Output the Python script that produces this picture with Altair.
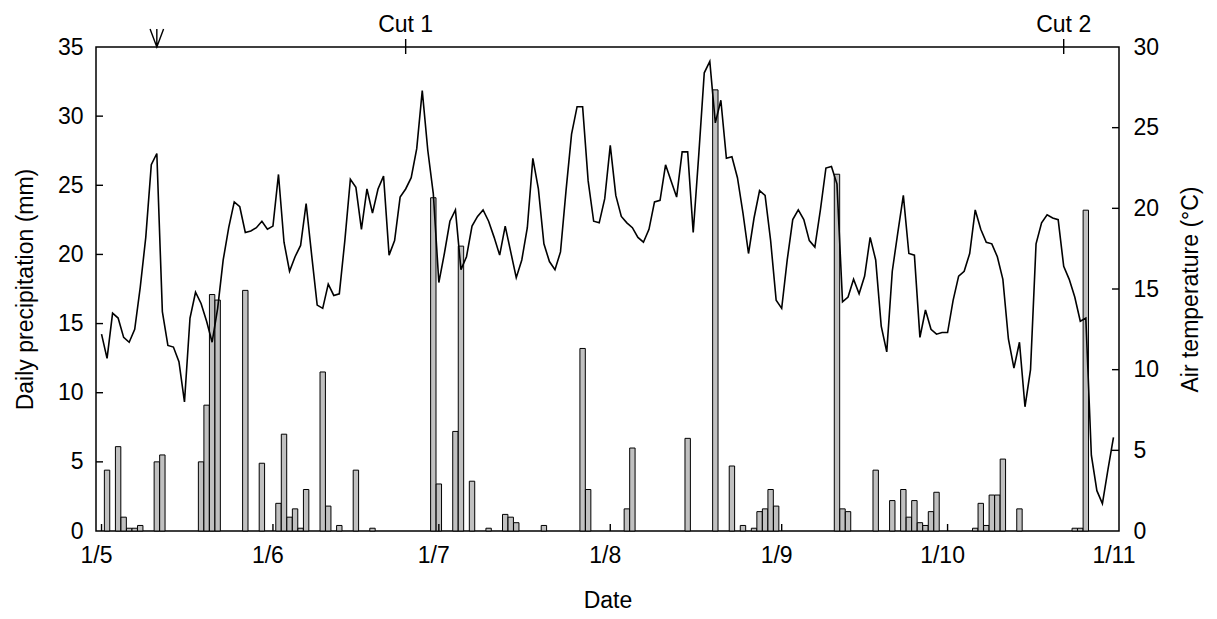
import altair as alt
import pandas as pd

FONT = "Liberation Sans"
FS = 23

# ---- x axis (day of season; 1 = 1 May) ----
label_pos = [0, 31, 61, 92, 123, 153, 184]
label_txt = ["1/5", "1/6", "1/7", "1/8", "1/9", "1/10", "1/11"]
month_ticks = [1, 32, 62, 93, 124, 154]

# ---- daily precipitation (mm), only rainy days ----
rain_day = [2, 4, 5, 6, 7, 8, 11, 12, 19, 20, 21, 22, 27, 30, 33, 34, 35, 36, 37, 38,
            41, 42, 44, 47, 50, 61, 62, 65, 66, 68, 71, 74, 75, 76, 81, 88, 89, 96, 97,
            107, 112, 115, 117, 119, 120, 121, 122, 123, 134, 135, 136, 141, 144, 146,
            147, 148, 149, 150, 151, 152, 159, 160, 161, 162, 163, 164, 167, 177, 178, 179]
rain_mm = [4.4, 6.1, 1.0, 0.2, 0.2, 0.4, 5.0, 5.5, 5.0, 9.1, 17.1, 16.7, 17.4, 4.9,
           2.0, 7.0, 1.0, 1.6, 0.2, 3.0, 11.5, 1.8, 0.4, 4.4, 0.2, 24.1, 3.4, 7.2, 20.6,
           3.6, 0.2, 1.2, 1.0, 0.6, 0.4, 13.2, 3.0, 1.6, 6.0, 6.7, 31.9, 4.7, 0.4, 0.2,
           1.4, 1.6, 3.0, 1.8, 25.8, 1.6, 1.4, 4.4, 2.2, 3.0, 1.0, 2.2, 0.6, 0.4, 1.4,
           2.8, 0.2, 2.0, 0.4, 2.6, 2.6, 5.2, 1.6, 0.2, 0.2, 23.2]

# ---- daily air temperature (°C), 1 May .. 31 Oct ----
temp_c = [12.2, 10.7, 13.5, 13.2, 12.0, 11.7, 12.5, 15.1, 18.2, 22.7,
          23.4, 13.6, 11.5, 11.4, 10.5, 8.0, 13.2, 14.8, 14.1, 13.0,
          11.7, 13.8, 16.8, 18.8, 20.4, 20.1, 18.5, 18.6, 18.8, 19.2,
          18.7, 18.9, 22.1, 17.9, 16.1, 17.0, 17.7, 20.3, 17.1, 14.0,
          13.8, 15.3, 14.6, 14.7,
          18.0, 21.8, 21.3, 18.7, 21.2, 19.7, 21.2, 22.0, 17.1, 18.0,
          20.7, 21.2, 21.9, 23.7, 27.3, 23.6, 20.9, 15.4, 17.2, 19.2,
          19.9, 16.2, 17.0, 18.9, 19.5, 19.9, 19.2, 18.2, 17.1, 18.9,
          17.3, 15.7, 16.8, 18.8, 23.1, 21.2, 17.8, 16.7, 16.2, 17.3,
          21.1, 24.6, 26.3, 26.3, 21.7, 19.2, 19.1,
          20.6, 23.9, 20.8, 19.5, 19.1, 18.8, 18.2, 17.9, 18.7, 20.4,
          20.5, 22.7, 21.7, 20.7, 23.5, 23.5, 18.5, 23.3, 28.4, 29.1,
          25.3, 26.7, 23.1, 23.2, 21.9, 19.7, 17.2, 19.4, 21.1, 20.8,
          18.0, 14.3, 13.8, 16.8, 19.3, 19.9, 19.3, 18.0, 17.6, 19.9,
          22.5, 22.6, 21.5,
          14.2, 14.5, 15.6, 14.7, 15.8, 18.2, 16.8, 12.7, 11.1, 16.1,
          18.5, 20.8, 17.2, 17.1, 12.0, 13.7, 12.5, 12.2, 12.3, 12.3,
          14.3, 15.8, 16.1, 17.2, 19.9, 18.7, 17.9, 17.8, 17.0, 15.6,
          11.9, 10.1, 11.7, 7.7, 10.0, 17.8, 19.1, 19.6, 19.4, 19.3,
          16.4, 15.6, 14.5, 13.0, 13.2, 4.7, 2.5, 1.7, 3.8, 5.8]
temp_day = list(range(1, len(temp_c) + 1))

# ---- events on the top axis ----
cut_day = [56, 175]
cut_txt = ["Cut 1", "Cut 2"]
arrow_day = [11]

left_ticks = [5, 10, 15, 20, 25, 30]
right_ticks = [5, 10, 15, 20, 25]

W, H = 1023, 484

rain_df = pd.DataFrame({"day": rain_day, "mm": rain_mm})
temp_df = pd.DataFrame({"day": temp_day, "temp": temp_c})
cut_df = pd.DataFrame({"day": cut_day, "txt": cut_txt})
arrow_df = pd.DataFrame({"day": arrow_day})
mt_df = pd.DataFrame({"day": month_ticks})
lt_df = pd.DataFrame({"v": left_ticks})
rt_df = pd.DataFrame({"v": right_ticks})

xs = alt.Scale(domain=[0, 185], nice=False, zero=False, padding=0)
ysl = alt.Scale(domain=[0, 35], nice=False, padding=0)
ysr = alt.Scale(domain=[0, 30], nice=False, padding=0)

label_expr = " : ".join(
    f"datum.value == {p} ? '{t}'" for p, t in zip(label_pos, label_txt)) + " : ''"

x_axis = alt.Axis(
    values=label_pos, labelExpr=label_expr, title="Date", ticks=False,
    domain=False, grid=False, labelPadding=13, titlePadding=22,
    labelFlush=False, labelOverlap=False)
X = alt.X("day:Q", scale=xs, axis=x_axis)

bars = alt.Chart(rain_df).mark_bar(
    size=5.4, fill="#c0c0c0", stroke="black", strokeWidth=1
).encode(
    x=X,
    y=alt.Y("mm:Q", scale=ysl, axis=alt.Axis(
        values=[0, 5, 10, 15, 20, 25, 30, 35], title="Daily precipitation (mm)",
        ticks=False, domain=False, grid=False, labelPadding=13, titlePadding=20)),
)

lticks = alt.Chart(lt_df).mark_rule(color="black", strokeWidth=1.4).encode(
    y=alt.Y("v:Q", scale=ysl, axis=None), x=alt.value(0), x2=alt.value(7))

mticks = alt.Chart(mt_df).mark_rule(color="black", strokeWidth=1.4).encode(
    x=X, y=alt.value(H), y2=alt.value(H - 7))

cut_rules = alt.Chart(cut_df).mark_rule(color="black", strokeWidth=1.4).encode(
    x=X, y=alt.value(-8), y2=alt.value(7))

cut_text = alt.Chart(cut_df).mark_text(
    font=FONT, fontSize=FS, baseline="alphabetic", align="center", color="black"
).encode(x=X, y=alt.value(-15), text="txt:N")

arrow = alt.Chart(arrow_df).mark_point(
    shape="M-0.75,-1L0,1L0.75,-1M0,-1L0,1", size=324, filled=False,
    stroke="black", strokeWidth=1.4, opacity=1
).encode(x=X, y=alt.value(-9))

line = alt.Chart(temp_df).mark_line(color="black", strokeWidth=1.6).encode(
    x=X,
    y=alt.Y("temp:Q", scale=ysr, axis=alt.Axis(
        orient="right", values=[0, 5, 10, 15, 20, 25, 30],
        title="Air temperature (°C)", titleAngle=270, titleBaseline="top",
        ticks=False, domain=False, grid=False, labelPadding=14, titlePadding=21)),
)

rticks = alt.Chart(rt_df).mark_rule(color="black", strokeWidth=1.4).encode(
    y=alt.Y("v:Q", scale=ysr, axis=None), x=alt.value(W - 7), x2=alt.value(W))

chart = alt.layer(
    bars, lticks, mticks, cut_rules, cut_text, arrow, line, rticks
).resolve_scale(y="independent").properties(
    width=W, height=H,
    padding={"left": 88, "top": 39, "right": 90, "bottom": 80},
    autosize=alt.AutoSizeParams(type="none"),
    background="white",
).configure_view(
    stroke="black", strokeWidth=1.5
).configure_axis(
    labelFont=FONT, titleFont=FONT, labelFontSize=FS, titleFontSize=FS,
    titleFontWeight="normal", labelColor="black", titleColor="black",
)

chart.save("out.html", embed_options={"renderer": "svg", "actions": False})
